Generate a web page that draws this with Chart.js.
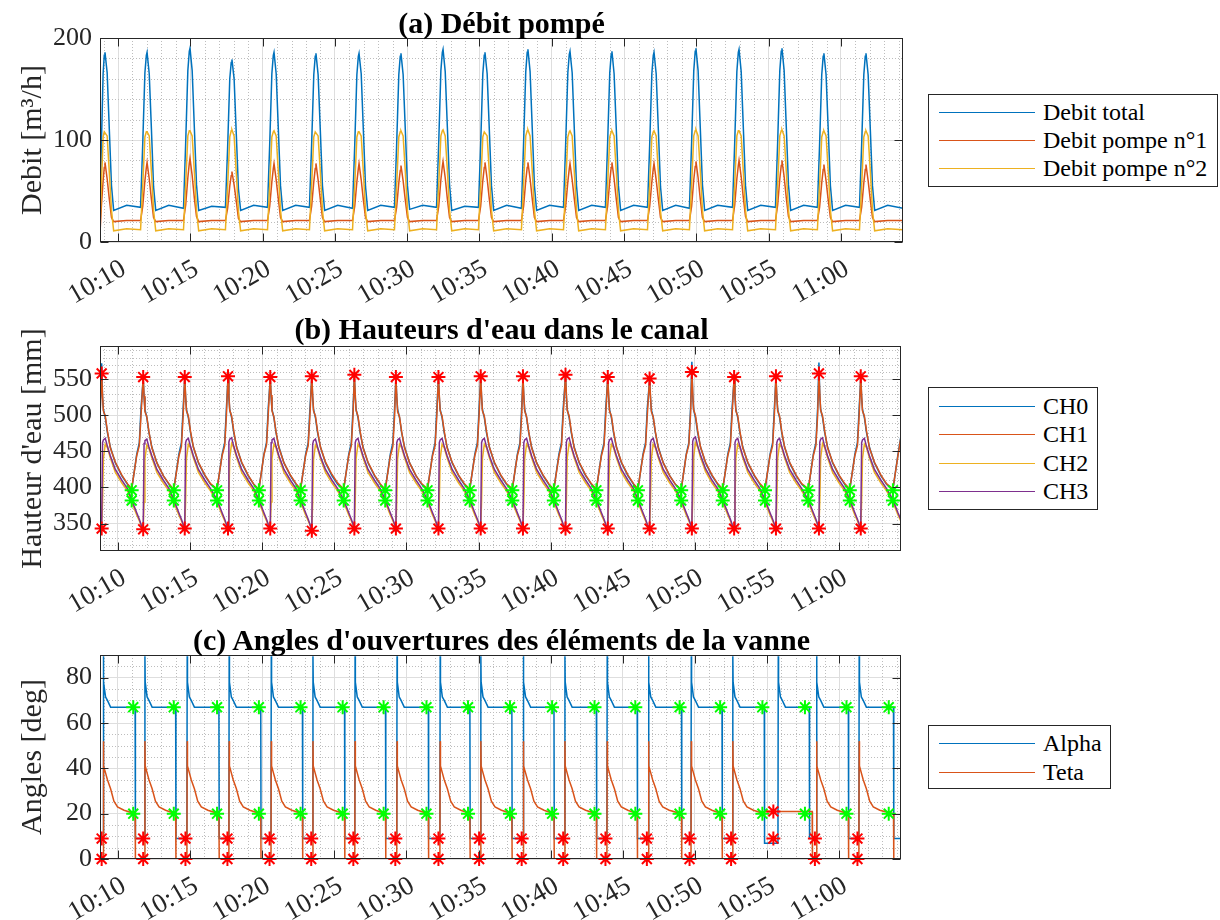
<!DOCTYPE html>
<html><head><meta charset="utf-8">
<script src="https://cdn.jsdelivr.net/npm/chart.js@4.4.1/dist/chart.umd.min.js"></script>
<style>
html,body{margin:0;padding:0;background:#fff;}
#wrap{position:relative;width:1220px;height:920px;overflow:hidden;font-family:'Liberation Serif','Times New Roman',serif;color:#000;}
canvas{position:absolute;left:0;}
.ttl{position:absolute;left:100px;width:803px;text-align:center;font-weight:bold;font-size:30px;line-height:30px;white-space:nowrap;color:#000;}
.lg{position:absolute;left:928px;border:1px solid #262626;background:#fff;box-sizing:border-box;}
.sw{position:absolute;left:10px;width:96px;height:0;border-top:1.5px solid;}
.lt{position:absolute;left:114px;font-size:24px;line-height:28px;white-space:nowrap;color:#000;}
</style></head>
<body><div id="wrap">
<canvas id="ca" width="910" height="310" style="top:0"></canvas>
<canvas id="cb" width="910" height="310" style="top:310px"></canvas>
<canvas id="cc" width="910" height="300" style="top:620px"></canvas>
<div class="ttl" style="top:8px">(a) Débit pompé</div>
<div class="ttl" style="top:314px">(b) Hauteurs d'eau dans le canal</div>
<div class="ttl" style="top:625px">(c) Angles d'ouvertures des éléments de la vanne</div>
<div id="lgA" class="lg" style="top:94px;width:290px;height:93px"></div>
<div id="lgB" class="lg" style="top:387px;width:170px;height:123px"></div>
<div id="lgC" class="lg" style="top:725px;width:183px;height:64px"></div>
</div>
<script>
// ---------- shared axis data ----------
const xTickValues = [10, 15, 20, 25, 30, 35, 40, 45, 50, 55, 60];
const xTickLabels = ['10:10','10:15','10:20','10:25','10:30','10:35','10:40','10:45','10:50','10:55','11:00'];
const X_MIN = 8.755, X_MAX = 64.29;

// ---------- (a) Débit pompé ----------
const seriesNamesA = ['Debit total', 'Debit pompe n°1', 'Debit pompe n°2'];
const tA = [
8.76,8.85,8.97,9.05,9.10,9.25,9.40,9.55,9.70,10.60,
11.56,11.71,11.86,11.96,12.01,12.16,12.31,12.46,12.61,13.51,
14.53,14.68,14.83,14.93,14.98,15.13,15.28,15.43,15.58,16.48,
17.43,17.58,17.73,17.83,17.88,18.03,18.18,18.33,18.48,19.38,
20.34,20.49,20.64,20.74,20.79,20.94,21.09,21.24,21.39,22.29,
23.24,23.39,23.54,23.64,23.69,23.84,23.99,24.14,24.29,25.19,
26.22,26.37,26.52,26.62,26.67,26.82,26.97,27.12,27.27,28.17,
29.12,29.27,29.42,29.52,29.57,29.72,29.87,30.02,30.17,31.07,
32.03,32.18,32.33,32.43,32.48,32.63,32.78,32.93,33.08,33.98,
34.93,35.08,35.23,35.33,35.38,35.53,35.68,35.83,35.98,36.88,
37.90,38.05,38.20,38.30,38.35,38.50,38.65,38.80,38.95,39.85,
40.81,40.96,41.11,41.21,41.26,41.41,41.56,41.71,41.86,42.76,
43.71,43.86,44.01,44.11,44.16,44.31,44.46,44.61,44.76,45.66,
46.62,46.77,46.92,47.02,47.07,47.22,47.37,47.52,47.67,48.57,
49.52,49.67,49.82,49.92,49.97,50.12,50.27,50.42,50.57,51.47,
52.50,52.65,52.80,52.90,52.95,53.10,53.25,53.40,53.55,54.45,
55.47,55.62,55.77,55.87,55.92,56.07,56.22,56.37,56.52,57.42,
58.37,58.52,58.67,58.77,58.82,58.97,59.12,59.27,59.42,60.32,
61.28,61.43,61.58,61.68,61.73,61.88,62.03,62.18,62.33,63.23,64.29];
const debitTotal = [
20,95,165,183,186,166,110,55,31,36,
34,96,166,183,186,165,111,54,31,36,
33,97,168,187,190,168,112,56,31,35,
34,92,160,176,179,160,106,52,31,36,
34,95,165,183,186,165,110,55,31,36,
34,95,164,182,185,164,110,55,31,36,
33,94,164,182,185,165,109,54,31,36,
34,95,164,182,185,164,110,55,32,36,
34,97,168,186,189,167,112,56,31,35,
34,95,165,183,186,165,110,55,31,36,
33,97,167,186,189,167,111,55,31,36,
34,96,166,184,187,166,110,55,31,36,
34,96,166,184,187,165,111,55,31,36,
34,95,165,183,186,165,110,54,31,36,
33,97,168,187,190,168,112,56,31,36,
34,97,167,186,189,167,111,55,31,36,
34,97,168,187,190,168,112,56,31,36,
34,95,164,182,185,164,110,55,31,36,
34,95,164,182,185,164,110,55,31,36,33];
const debitPompe1 = [
10,35,60,73,78,62,42,24,20,21,
21,35,60,73,78,62,42,24,20,21,
21,36,63,77,82,65,43,25,20,21,
21,33,55,65,69,56,40,23,20,21,
21,35,59,72,77,61,42,24,20,21,
21,35,59,72,77,61,42,24,20,21,
21,35,59,72,77,61,41,24,20,21,
21,34,58,70,75,60,41,24,20,21,
21,35,61,74,79,63,42,24,20,21,
21,35,60,73,78,62,42,24,20,21,
21,35,60,73,78,62,42,24,20,21,
21,35,59,72,77,61,42,24,20,21,
21,35,60,73,78,62,42,24,20,21,
21,35,59,72,77,61,42,24,20,21,
21,35,61,74,79,63,42,24,20,21,
21,36,62,75,80,64,43,25,20,21,
21,36,62,75,80,64,43,25,20,21,
21,34,58,71,76,60,41,24,20,21,
21,34,58,71,76,60,41,24,20,21,21];
const debitPompe2 = [
15,55,103,108,108,104,68,31,11,13,
12,55,103,108,108,104,69,31,11,13,
12,56,104,109,109,104,69,31,11,13,
12,54,103,109,110,104,68,30,11,13,
12,55,103,108,109,104,68,31,11,13,
12,55,103,108,108,104,69,31,11,13,
12,55,103,108,108,104,68,30,11,13,
12,55,103,108,109,104,69,31,11,13,
12,56,104,109,110,104,70,31,11,13,
12,55,103,108,108,104,68,31,11,13,
12,56,104,109,110,104,69,31,11,13,
12,55,103,108,109,104,68,31,11,13,
12,55,103,108,109,104,69,31,11,13,
12,55,103,108,109,104,68,30,11,13,
12,56,104,109,110,104,70,31,11,13,
12,56,104,109,109,104,68,31,11,13,
12,56,104,109,110,104,69,31,11,13,
12,55,103,108,109,104,69,31,11,13,
12,55,103,108,109,104,69,31,11,13,12];
const yTicksA = [0, 100, 200];

// ---------- (b) Hauteurs d'eau ----------
const seriesNamesB = ['CH0', 'CH1', 'CH2', 'CH3'];
const tB = [8.76,
8.87,8.93,8.99,9.12,9.27,9.47,9.82,10.27,10.67,10.95,11.30,11.48,11.60,
11.75,11.81,11.87,12.00,12.15,12.35,12.70,13.15,13.55,13.87,14.22,14.40,14.52,
14.63,14.69,14.75,14.88,15.03,15.23,15.58,16.03,16.43,16.87,17.22,17.40,17.52,
17.63,17.69,17.75,17.88,18.03,18.23,18.58,19.03,19.43,19.77,20.12,20.30,20.42,
20.56,20.62,20.68,20.81,20.96,21.16,21.51,21.96,22.36,22.66,23.01,23.19,23.31,
23.44,23.50,23.56,23.69,23.84,24.04,24.39,24.84,25.24,25.65,26.00,26.18,26.30,
26.39,26.45,26.51,26.64,26.79,26.99,27.34,27.79,28.19,28.53,28.88,29.06,29.18,
29.27,29.33,29.39,29.52,29.67,29.87,30.22,30.67,31.07,31.46,31.81,31.99,32.11,
32.22,32.28,32.34,32.47,32.62,32.82,33.17,33.62,34.02,34.39,34.74,34.92,35.04,
35.15,35.21,35.27,35.40,35.55,35.75,36.10,36.55,36.95,37.34,37.69,37.87,37.99,
38.08,38.14,38.20,38.33,38.48,38.68,39.03,39.48,39.88,40.22,40.57,40.75,40.87,
41.03,41.09,41.15,41.28,41.43,41.63,41.98,42.43,42.83,43.17,43.52,43.70,43.82,
43.96,44.02,44.08,44.21,44.36,44.56,44.91,45.36,45.76,46.05,46.40,46.58,46.70,
46.86,46.92,46.98,47.11,47.26,47.46,47.81,48.26,48.66,49.05,49.40,49.58,49.70,
49.79,49.85,49.91,50.04,50.19,50.39,50.74,51.19,51.59,51.93,52.28,52.46,52.58,
52.72,52.78,52.84,52.97,53.12,53.32,53.67,54.12,54.52,54.86,55.21,55.39,55.51,
55.62,55.68,55.74,55.87,56.02,56.22,56.57,57.02,57.42,57.86,58.21,58.39,58.51,
58.60,58.66,58.72,58.85,59.00,59.20,59.55,60.00,60.40,60.74,61.09,61.27,61.39,
61.50,61.56,61.62,61.75,61.90,62.10,62.45,62.90,63.30,63.73,64.08,64.29];
const ch0 = [505,
572,525,508,497,476,456,434,416,404,397,446,462,510,
551,525,508,497,476,456,434,416,404,397,446,462,510,
551,525,508,497,476,456,434,416,404,397,446,462,510,
552,525,508,497,476,456,434,416,404,397,446,462,510,
551,525,508,497,476,456,434,416,404,397,446,462,510,
552,525,508,497,476,456,434,416,404,397,446,462,510,
554,525,508,497,476,456,434,416,404,397,446,462,510,
551,525,508,497,476,456,434,416,404,397,446,462,510,
551,525,508,497,476,456,434,416,404,397,446,462,510,
552,525,508,497,476,456,434,416,404,397,446,462,510,
552,525,508,497,476,456,434,416,404,397,446,462,510,
554,525,508,497,476,456,434,416,404,397,446,462,510,
551,525,508,497,476,456,434,416,404,397,446,462,510,
549,525,508,497,476,456,434,416,404,397,446,462,510,
574,527,508,497,476,456,434,416,404,397,446,462,510,
551,525,508,497,476,456,434,416,404,397,446,462,510,
552,525,508,497,476,456,434,416,404,397,446,462,510,
573,527,508,497,476,456,434,416,404,397,446,462,510,
552,525,508,497,476,456,434,416,404,397,446,472];
const ch1 = [500,
558,528,506,499,478,455,435,417,405,398,444,458,500,
553,527,505,498,477,455,434,416,405,397,443,457,499,
553,528,506,499,478,456,435,417,405,398,444,458,500,
554,529,507,499,478,455,435,417,404,397,445,459,501,
553,528,506,498,477,455,434,417,405,398,444,458,500,
554,528,506,499,478,456,435,418,406,398,444,458,500,
556,530,507,499,478,455,435,417,405,397,443,457,499,
553,527,505,498,477,455,434,416,405,398,444,458,500,
553,528,506,499,478,455,435,417,405,398,444,458,500,
554,528,506,499,478,456,435,417,405,398,444,458,500,
554,528,506,498,477,455,434,417,405,397,443,458,500,
556,530,507,499,478,455,435,417,405,398,444,458,500,
553,528,506,499,478,456,435,417,405,398,444,458,500,
551,527,505,498,477,455,434,416,404,397,445,459,502,
560,532,508,500,479,456,435,417,405,398,444,458,500,
553,528,506,499,478,455,435,417,405,398,444,458,500,
554,528,506,499,478,456,435,417,405,398,444,458,500,
558,530,507,499,478,455,435,417,405,398,444,458,500,
554,528,506,499,478,455,435,417,405,398,444,470];
const ch2 = [348,
345,380,440,460,455,441,421,406,395,380,362,354,348,
344,380,440,459,454,441,421,406,395,380,362,354,348,
345,380,440,460,455,441,421,406,395,380,362,354,348,
345,381,441,461,455,441,421,406,395,380,362,354,348,
345,380,440,460,455,441,421,406,395,380,362,354,348,
342,378,439,459,454,440,421,406,395,380,362,354,348,
345,380,440,460,455,441,421,406,395,380,362,354,348,
345,380,440,460,455,441,421,406,395,380,362,354,348,
345,380,440,460,455,441,421,406,395,380,362,354,348,
345,380,440,460,455,441,421,406,395,380,362,354,348,
345,380,440,460,455,441,421,406,395,380,362,354,348,
345,381,441,461,455,441,421,406,395,380,362,354,348,
345,380,440,460,455,441,421,406,395,380,362,354,348,
345,380,440,460,455,441,421,406,395,380,362,354,348,
345,382,442,462,456,442,422,406,395,380,362,354,348,
345,380,440,460,455,441,421,406,395,380,362,354,348,
345,380,440,460,455,441,421,406,395,380,362,354,348,
345,381,441,461,455,441,421,406,395,380,362,354,348,
345,380,440,460,455,441,421,406,395,380,362,353];
const ch3 = [346,
343,462,466,468,457,444,425,410,398,383,365,356,349,
342,461,465,467,456,444,425,410,398,383,365,356,349,
343,462,466,468,457,444,425,410,398,383,365,356,349,
343,463,467,469,457,444,425,410,398,383,365,356,349,
343,462,466,468,457,444,425,410,398,383,365,356,349,
340,460,465,467,456,443,425,410,398,383,365,356,349,
343,462,466,468,457,444,425,410,398,383,365,356,349,
343,462,466,468,457,444,425,410,398,383,365,356,349,
343,462,466,468,457,444,425,410,398,383,365,356,349,
343,462,466,468,457,444,425,410,398,383,365,356,349,
343,462,466,468,457,444,425,410,398,383,365,356,349,
343,463,467,469,457,444,425,410,398,383,365,356,349,
343,462,466,468,457,444,425,410,398,383,365,356,349,
343,462,466,468,457,444,425,410,398,383,365,356,349,
343,464,468,470,458,445,426,410,398,383,365,356,349,
343,462,466,468,457,444,425,410,398,383,365,356,349,
343,462,466,468,457,444,425,410,398,383,365,356,349,
343,463,467,469,457,444,425,410,398,383,365,356,349,
343,462,466,468,457,444,425,410,398,383,365,355];
const peakTimesB = [8.87,11.75,14.63,17.63,20.56,23.44,26.39,29.27,32.22,35.15,38.08,41.03,43.96,46.86,49.79,52.72,55.62,58.60,61.50];
const peakTopB = [558,553,553,554,553,554,556,553,553,554,554,556,553,551,560,553,554,558,554];
const peakBottomB = [343,342,343,343,343,340,343,343,343,343,343,343,343,343,343,343,343,343,343];
const greenTimesB = [10.95,13.87,16.87,19.77,22.66,25.65,28.53,31.46,34.39,37.34,40.22,43.17,46.05,49.05,51.93,54.86,57.86,60.74,63.73];
const greenHighB = [396,396,396,396,396,396,396,396,396,396,396,396,396,396,396,396,396,396,396];
const greenLowB = [382,382,382,382,382,382,382,382,382,382,382,382,382,382,382,382,382,382,382];
const yTicksB = [350, 400, 450, 500, 550];

// ---------- (c) Angles ----------
const seriesNamesC = ['Alpha', 'Teta'];
const tC = [8.76,
8.97,8.99,9.01,9.14,9.27,9.49,9.72,9.97,10.42,11.19,11.21,
11.85,11.87,11.89,12.02,12.15,12.37,12.60,12.85,13.30,14.00,14.02,
14.78,14.80,14.82,14.95,15.08,15.30,15.53,15.78,16.23,17.00,17.02,
17.69,17.71,17.73,17.86,17.99,18.21,18.44,18.69,19.14,19.90,19.92,
20.61,20.63,20.65,20.78,20.91,21.13,21.36,21.61,22.06,22.79,22.81,
23.50,23.52,23.54,23.67,23.80,24.02,24.25,24.50,24.95,25.71,25.73,
26.42,26.44,26.46,26.59,26.72,26.94,27.17,27.42,27.87,28.55,28.57,
29.33,29.35,29.37,29.50,29.63,29.85,30.08,30.33,30.78,31.52,31.54,
32.32,32.34,32.36,32.49,32.62,32.84,33.07,33.32,33.77,34.40,34.42,
35.14,35.16,35.18,35.31,35.44,35.66,35.89,36.14,36.59,37.31,37.33,
38.09,38.11,38.13,38.26,38.39,38.61,38.84,39.09,39.54,40.23,40.25,
40.97,40.99,41.01,41.14,41.27,41.49,41.72,41.97,42.42,43.17,43.19,
43.90,43.92,43.94,44.07,44.20,44.42,44.65,44.90,45.35,46.00,46.02,
46.77,46.79,46.81,46.94,47.07,47.29,47.52,47.77,48.22,49.07,49.09,
49.73,49.75,49.77,49.90,50.03,50.25,50.48,50.73,51.18,51.88,51.90,
52.61,52.63,52.65,52.78,52.91,53.13,53.36,53.61,54.06,54.81,54.83,
55.76,55.78,55.80,55.93,56.06,56.28,56.51,56.76,57.21,57.93,57.95,58.13,58.15,
58.42,58.44,58.46,58.59,58.72,58.94,59.17,59.42,59.87,60.64,60.66,
61.37,61.39,61.41,61.54,61.67,61.89,62.12,62.37,62.82,63.77,63.79,64.29];
const alphaC = [9,
9,89.5,78,71.5,70,67,67,67,67,67,9,
9,89.5,78,71.5,70,67,67,67,67,67,9,
9,89.5,78,71.5,70,67,67,67,67,67,9,
9,89.5,78,71.5,70,67,67,67,67,67,9,
9,89.5,78,71.5,70,67,67,67,67,67,9,
9,89.5,78,71.5,70,67,67,67,67,67,9,
9,89.5,78,71.5,70,67,67,67,67,67,9,
9,89.5,78,71.5,70,67,67,67,67,67,9,
9,89.5,78,71.5,70,67,67,67,67,67,9,
9,89.5,78,71.5,70,67,67,67,67,67,9,
9,89.5,78,71.5,70,67,67,67,67,67,9,
9,89.5,78,71.5,70,67,67,67,67,67,9,
9,89.5,78,71.5,70,67,67,67,67,67,9,
9,89.5,78,71.5,70,67,67,67,67,67,9,
9,89.5,78,71.5,70,67,67,67,67,67,9,
9,89.5,78,71.5,70,67,67,67,67,67,7,
7,89.5,78,71.5,70,67,67,67,67,67,9,9,9,
9,89.5,78,71.5,70,67,67,67,67,67,9,
9,89.5,78,71.5,70,67,67,67,67,67,9,9];
const tetaC = [0,
0,52,41,38,35,31,25.5,23,21.5,20,0,
0,52,41,38,35,31,25.5,23,21.5,20,0,
0,52,41,38,35,31,25.5,23,21.5,20,0,
0,52,41,38,35,31,25.5,23,21.5,20,0,
0,52,41,38,35,31,25.5,23,21.5,20,0,
0,52,41,38,35,31,25.5,23,21.5,20,0,
0,52,41,38,35,31,25.5,23,21.5,20,0,
0,52,41,38,35,31,25.5,23,21.5,20,0,
0,52,41,38,35,31,25.5,23,21.5,20,0,
0,52,41,38,35,31,25.5,23,21.5,20,0,
0,52,41,38,35,31,25.5,23,21.5,20,0,
0,52,41,38,35,31,25.5,23,21.5,20,0,
0,52,41,38,35,31,25.5,23,21.5,20,0,
0,52,41,38,35,31,25.5,23,21.5,20,0,
0,52,41,38,35,31,25.5,23,21.5,20,0,
0,52,41,38,35,31,25.5,23,21.5,20,21,
21,21,21,21,21,21,21,21,21,21,21,21,0,
0,52,41,38,35,31,25.5,23,21.5,20,0,
0,52,41,38,35,31,25.5,23,21.5,20,0,0];
const redTimesC = [8.87,11.75,14.68,17.59,20.51,23.40,26.32,29.23,32.22,35.04,37.99,40.87,43.80,46.67,49.63,52.51,55.44,58.32,61.27];
const redHighC = [9,9,9,9,9,9,9,9,9,9,9,9,9,9,9,9,21,9,9];
const redLowC = [0,0,0,0,0,0,0,0,0,0,0,0,0,0,0,0,9,0,0];
const greenTimesC = [11.06,13.87,16.87,19.77,22.66,25.58,28.42,31.39,34.27,37.18,40.10,43.04,45.87,48.94,51.75,54.68,57.63,60.51,63.44];
const greenHighC = [67,67,67,67,67,67,67,67,67,67,67,67,67,67,67,67,67,67,67];
const greenLowC = [20,20,20,20,20,20,20,20,20,20,20,20,20,20,20,20,20,20,20];
const yTicksC = [0, 20, 40, 60, 80];

// ---------- styling ----------
const COL = {blue:'#0072BD', orange:'#D95319', yellow:'#EDB120', purple:'#7E2F8E', red:'#FF0000', green:'#00FF00'};
const FONT = "'Liberation Serif','Times New Roman',serif";
const AXC = '#262626';

function pts(ts, vs) { return ts.map((t, i) => ({x: t, y: vs[i]})); }
function lineDs(label, ts, vs, color, order) {
  return {label, data: pts(ts, vs), borderColor: color, backgroundColor: color,
          borderWidth: 1.5, pointRadius: 0, tension: 0, order};
}
function starDs(ts, vs, color) {
  return {label: '', data: pts(ts, vs), showLine: false, pointStyle: 'star', pointRadius: 7,
          pointBorderWidth: 2, pointBorderColor: color, pointBackgroundColor: color,
          borderColor: color, backgroundColor: color, order: 0, clip: false};
}

const matlabAxes = {
  id: 'matlabAxes',
  beforeDatasetsDraw(chart, args, o) {
    const {ctx, chartArea: a} = chart; const x = chart.scales.x, y = chart.scales.y;
    ctx.save();
    ctx.beginPath(); ctx.rect(a.left, a.top, a.right - a.left, a.bottom - a.top); ctx.clip();
    ctx.strokeStyle = '#bdbdbd'; ctx.lineWidth = 1; ctx.setLineDash([1, 2]);
    for (let k = Math.ceil(x.min / o.xMinor); k * o.xMinor <= x.max; k++) {
      const v = k * o.xMinor;
      if (xTickValues.some(t => Math.abs(t - v) < 1e-6)) continue;
      const px = Math.round(x.getPixelForValue(v)) + 0.5;
      ctx.beginPath(); ctx.moveTo(px, a.top); ctx.lineTo(px, a.bottom); ctx.stroke();
    }
    for (let k = Math.ceil(y.min / o.yMinor); k * o.yMinor <= y.max; k++) {
      const v = k * o.yMinor;
      if (o.yTicks.some(t => Math.abs(t - v) < 1e-6)) continue;
      const py = Math.round(y.getPixelForValue(v)) + 0.5;
      ctx.beginPath(); ctx.moveTo(a.left, py); ctx.lineTo(a.right, py); ctx.stroke();
    }
    ctx.restore();
  },
  afterDraw(chart, args, o) {
    const {ctx, chartArea: a} = chart; const x = chart.scales.x, y = chart.scales.y;
    ctx.save(); ctx.strokeStyle = AXC; ctx.lineWidth = 1; ctx.setLineDash([]);
    const L = Math.round(a.left) + 0.5, R = Math.round(a.right) - 0.5, T = Math.round(a.top) + 0.5, B = Math.round(a.bottom) - 0.5;
    ctx.strokeRect(L, T, R - L, B - T);
    const tl = 8;
    ctx.beginPath();
    xTickValues.forEach(v => {
      const px = Math.round(x.getPixelForValue(v)) + 0.5;
      ctx.moveTo(px, B); ctx.lineTo(px, B - tl); ctx.moveTo(px, T); ctx.lineTo(px, T + tl);
    });
    o.yTicks.forEach(v => {
      const py = Math.round(y.getPixelForValue(v)) + 0.5;
      ctx.moveTo(L, py); ctx.lineTo(L + tl, py); ctx.moveTo(R, py); ctx.lineTo(R - tl, py);
    });
    ctx.stroke(); ctx.restore();
  }
};

function makeChart(id, cfg) {
  return new Chart(document.getElementById(id), {
    type: 'line',
    data: {datasets: cfg.datasets},
    plugins: [matlabAxes],
    options: {
      responsive: false, animation: false, devicePixelRatio: 1,
      layout: {padding: {top: cfg.padTop, right: 7, left: 0, bottom: 0}},
      plugins: {legend: {display: false}, tooltip: {enabled: false},
                matlabAxes: {xMinor: 1, yMinor: cfg.yMinor, yTicks: cfg.yTicks}},
      scales: {
        x: {type: 'linear', min: X_MIN, max: X_MAX,
            afterBuildTicks: s => { s.ticks = xTickValues.map(v => ({value: v})); },
            ticks: {autoSkip: false, minRotation: 30, maxRotation: 30, padding: 11, labelOffset: 6, color: AXC,
                    font: {family: FONT, size: 27}, callback: (v, i) => xTickLabels[i]},
            grid: {color: '#dedede', drawTicks: false}, border: {display: false},
            afterFit: s => { s.height = cfg.xH; }},
        y: {type: 'linear', min: cfg.yMin, max: cfg.yMax,
            afterBuildTicks: s => { s.ticks = cfg.yTicks.map(v => ({value: v})); },
            ticks: {padding: 8, color: AXC, font: {family: FONT, size: 26}, callback: v => String(v)},
            grid: {color: '#dedede', drawTicks: false}, border: {display: false},
            title: {display: true, text: cfg.yTitle, color: AXC, font: {family: FONT, size: 30},
                    padding: {top: 15, bottom: 0}},
            afterFit: s => { s.width = 100; }}
      }
    }
  });
}

makeChart('ca', {
  padTop: 38, xH: 68, yMin: 0, yMax: 200, yTicks: yTicksA, yMinor: 20, yTitle: 'Debit [m³/h]',
  datasets: [
    lineDs(seriesNamesA[0], tA, debitTotal, COL.blue, 3),
    lineDs(seriesNamesA[1], tA, debitPompe1, COL.orange, 2),
    lineDs(seriesNamesA[2], tA, debitPompe2, COL.yellow, 1)
  ]
});
makeChart('cb', {
  padTop: 36, xH: 69, yMin: 312, yMax: 596, yTicks: yTicksB, yMinor: 10, yTitle: "Hauteur d'eau [mm]",
  datasets: [
    lineDs(seriesNamesB[0], tB, ch0, COL.blue, 4),
    lineDs(seriesNamesB[1], tB, ch1, COL.orange, 3),
    lineDs(seriesNamesB[2], tB, ch2, COL.yellow, 2),
    lineDs(seriesNamesB[3], tB, ch3, COL.purple, 1),
    starDs(peakTimesB, peakTopB, COL.red),
    starDs(peakTimesB, peakBottomB, COL.red),
    starDs(greenTimesB, greenHighB, COL.green),
    starDs(greenTimesB, greenLowB, COL.green)
  ]
});
makeChart('cc', {
  padTop: 35, xH: 61, yMin: 0, yMax: 90, yTicks: yTicksC, yMinor: 5, yTitle: 'Angles [deg]',
  datasets: [
    lineDs(seriesNamesC[0], tC, alphaC, COL.blue, 2),
    lineDs(seriesNamesC[1], tC, tetaC, COL.orange, 1),
    starDs(redTimesC, redHighC, COL.red),
    starDs(redTimesC, redLowC, COL.red),
    starDs(greenTimesC, greenHighC, COL.green),
    starDs(greenTimesC, greenLowC, COL.green)
  ]
});

// ---------- legends (HTML boxes like MATLAB) ----------
function buildLegend(id, names, colors, rowCenters) {
  const box = document.getElementById(id);
  names.forEach((n, i) => {
    const sw = document.createElement('div'); sw.className = 'sw';
    sw.style.top = (rowCenters[i] - 1) + 'px'; sw.style.borderTopColor = colors[i];
    const t = document.createElement('div'); t.className = 'lt';
    t.style.top = (rowCenters[i] - 15) + 'px'; t.textContent = n;
    box.appendChild(sw); box.appendChild(t);
  });
}
buildLegend('lgA', seriesNamesA, [COL.blue, COL.orange, COL.yellow], [18, 46, 74]);
buildLegend('lgB', seriesNamesB, [COL.blue, COL.orange, COL.yellow, COL.purple], [19, 47, 76, 104]);
buildLegend('lgC', seriesNamesC, [COL.blue, COL.orange], [18, 47]);
</script>
</body></html>
